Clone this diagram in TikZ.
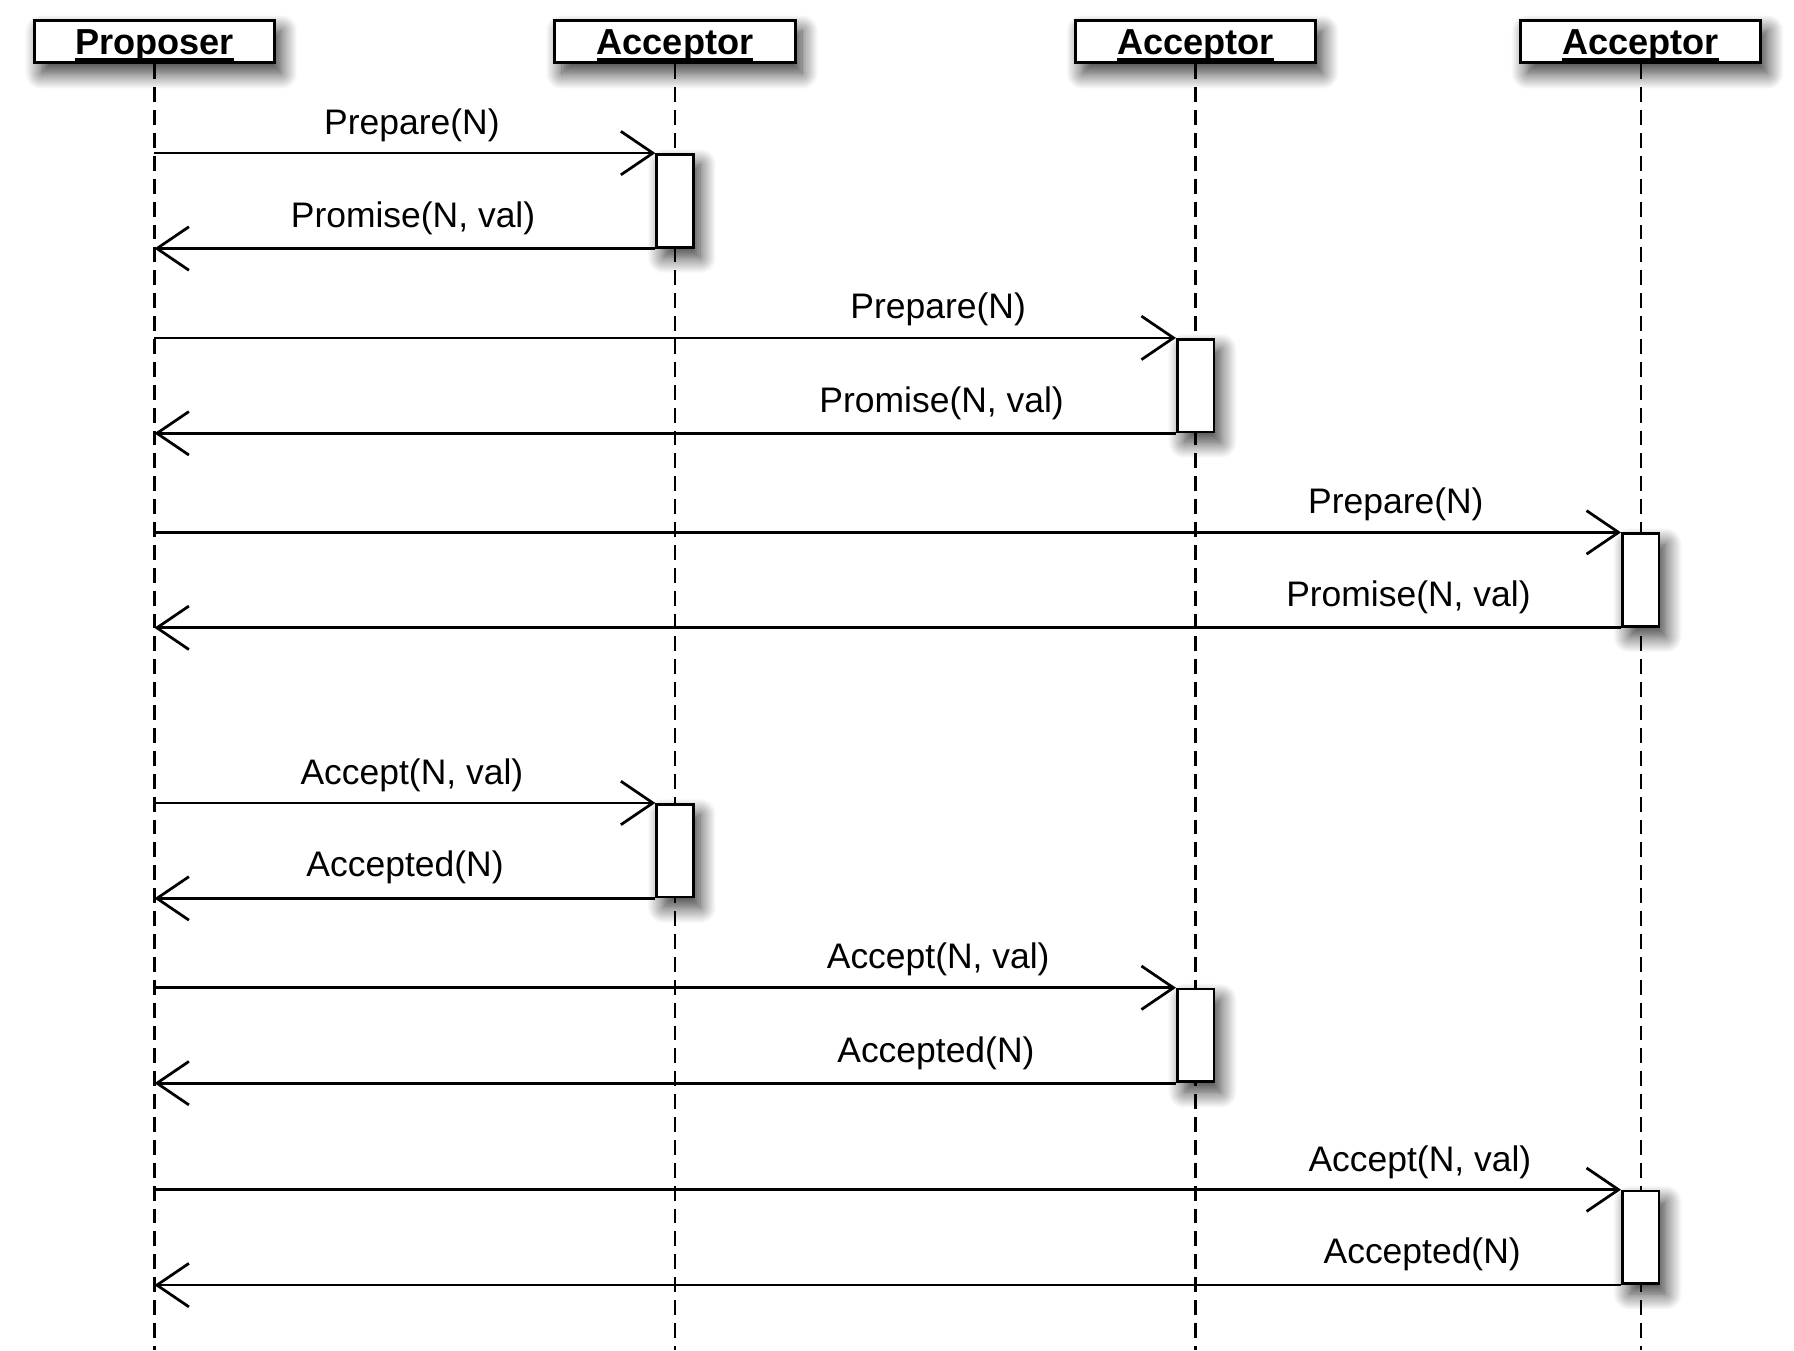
\documentclass[tikz,border=0pt]{standalone}
\usepackage{fontspec}
\setmainfont{Liberation Sans}
\usetikzlibrary{arrows.meta,shadows.blur}
\newcommand\hul[1]{\setbox0\hbox{#1}\rlap{\rule[-2.7pt]{\wd0}{1.2pt}}\box0}
\begin{document}
\begin{tikzpicture}[x=0.5pt,y=-0.5pt,
  font=\fontsize{15.5}{18}\selectfont,
  shad/.style={blur shadow={shadow xshift=3pt,shadow yshift=-4.5pt,shadow blur radius=7pt,shadow blur steps=16,shadow opacity=80}},
  hdr/.style={draw,line width=1.3pt,fill=white,minimum width=105pt,minimum height=18.5pt,inner sep=0pt,text height=13pt,text depth=1.5pt,font=\fontsize{15.8}{18}\selectfont\bfseries,shad},
  act/.style={draw,line width=1.2pt,fill=white,minimum width=16pt,minimum height=40.5pt,inner sep=0pt,shad},
  life/.style={line width=1.05pt,dash pattern=on 6.5pt off 3.5pt},
  msg/.style={line width=1.2pt,-{Straight Barb[length=14pt,width=19pt]}},
  lbl/.style={anchor=base,inner sep=0pt}]
\useasboundingbox (0,0) rectangle (1568,1180);
% headers
\node[hdr] (P)  at (135,36.5)  {\hul{Proposer}};
\node[hdr] (A1) at (590,36.5)  {\hul{Acceptor}};
\node[hdr] (A2) at (1045,36.5) {\hul{Acceptor}};
\node[hdr] (A3) at (1434,36.5) {\hul{Acceptor}};
% lifeline ends
\coordinate (Pe)  at (135,1180);
\coordinate (A1e) at (590,1180);
\coordinate (A2e) at (1045,1180);
\coordinate (A3e) at (1434,1180);
\draw[life] (P.south) -- (Pe);
\draw[life] (A1.south) -- (A1e);
\draw[life] (A2.south) -- (A2e);
\draw[life] (A3.south) -- (A3e);
% activation boxes
\node[act] (b1) at (590,175.5)  {};
\node[act] (b2) at (1045,337)   {};
\node[act] (b3) at (1434,507)   {};
\node[act] (b4) at (590,743.5)  {};
\node[act] (b5) at (1045,905)   {};
\node[act] (b6) at (1434,1081.5) {};
% messages
\foreach \b in {b1,b2,b3,b4,b5,b6}{
  \draw[msg] (P |- \b.north west) -- (\b.north west);
  \draw[msg] (\b.south west) -- (P |- \b.south west);
}
% labels
\node[lbl] (l1)  at (360,117.5)  {Prepare(N)};
\node[lbl] (l2)  at (361,198.5)  {Promise(N, val)};
\node[lbl] (l3)  at (820,278.5)  {Prepare(N)};
\node[lbl] (l4)  at (823,360.5)  {Promise(N, val)};
\node[lbl] (l5)  at (1220,448.5) {Prepare(N)};
\node[lbl] (l6)  at (1231,530.5) {Promise(N, val)};
\node[lbl] (l7)  at (360,685.5)  {Accept(N, val)};
\node[lbl] (l8)  at (354,766.5)  {Accepted(N)};
\node[lbl] (l9)  at (820,846.5)  {Accept(N, val)};
\node[lbl] (l10) at (818,928.5)  {Accepted(N)};
\node[lbl] (l11) at (1241,1023.5) {Accept(N, val)};
\node[lbl] (l12) at (1243,1104.5) {Accepted(N)};
\end{tikzpicture}
\end{document}
